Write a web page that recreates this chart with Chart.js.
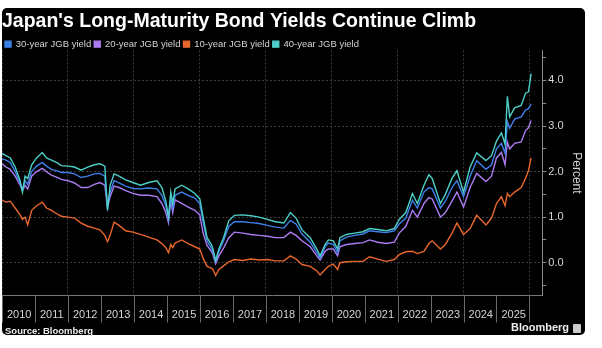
<!DOCTYPE html>
<html lang="en">

<head>
    <meta charset="UTF-8" />
    <title>Japan's Long-Maturity Bond Yields Continue Climb</title>
    <script src="https://cdn.jsdelivr.net/npm/chart.js"></script>
    <style>
        body {
            margin: 0;
            width: 602px;
            height: 348px;
            overflow: hidden;
            background: #fff;
            position: relative;
            font-family: "Liberation Sans", Arial, sans-serif;
        }

        .panel {
            position: absolute;
            left: 2px;
            top: 8px;
            width: 583px;
            height: 327px;
            background: #000;
            border-radius: 5px;
        }

        #yieldChart {
            position: absolute;
            left: 0;
            top: 0;
        }

        .source {
            position: absolute;
            left: 3px;
            top: 318px;
            color: #eee;
            font-weight: bold;
            font-size: 9.5px;
            line-height: 1;
        }

        .brand {
            position: absolute;
            left: 509px;
            top: 314px;
            color: #eee;
            font-weight: bold;
            font-size: 11px;
            line-height: 1;
        }

        .brand-icon {
            position: absolute;
            left: 571px;
            top: 316px;
            width: 8px;
            height: 9px;
            background: #ccc;
            border-radius: 1px;
        }
    </style>
</head>

<body>
    <div class="panel">
        <canvas id="yieldChart" width="583" height="327"></canvas>
        <span class="source">Source: Bloomberg</span>
        <span class="brand">Bloomberg</span>
        <span class="brand-icon"></span>
    </div>

    <script>
        // dates as decimal years
        const dates = [
            2010.00, 2010.12, 2010.25, 2010.40, 2010.55, 2010.62, 2010.70, 2010.78, 2010.90,
            2011.05, 2011.22, 2011.35, 2011.50, 2011.65, 2011.80,
            2012.00, 2012.20, 2012.40, 2012.60, 2012.80, 2012.97,
            2013.12, 2013.20, 2013.28, 2013.40, 2013.55, 2013.75, 2013.97,
            2014.20, 2014.45, 2014.70, 2014.85, 2014.97,
            2015.05, 2015.12, 2015.18, 2015.25, 2015.45, 2015.65, 2015.85,
            2016.00, 2016.10, 2016.22, 2016.35, 2016.40, 2016.48, 2016.58, 2016.72, 2016.88,
            2017.05, 2017.30, 2017.55, 2017.80,
            2018.05, 2018.30, 2018.55, 2018.75, 2018.92,
            2019.10, 2019.35, 2019.55, 2019.65, 2019.80, 2019.90,
            2020.05, 2020.18, 2020.25, 2020.45, 2020.70, 2020.95,
            2021.15, 2021.40, 2021.65, 2021.90,
            2022.05, 2022.25, 2022.45, 2022.60, 2022.80, 2022.95,
            2023.05, 2023.30, 2023.45, 2023.65, 2023.80,
            2024.00, 2024.20, 2024.40, 2024.68, 2024.85,
            2025.00, 2025.15, 2025.26, 2025.33, 2025.40, 2025.55, 2025.75, 2025.88, 2025.97,
            2026.05
        ];

        const jgb30 = [
            2.28, 2.25, 2.20, 2.00, 1.75, 1.60, 1.80, 1.72, 2.00,
            2.12, 2.20, 2.12, 2.05, 2.02, 1.98,
            1.98, 1.95, 1.87, 1.90, 1.95, 1.96,
            1.90, 1.25, 1.55, 1.80, 1.75, 1.68, 1.63,
            1.62, 1.64, 1.62, 1.48, 1.25,
            0.95, 1.42, 1.20, 1.48, 1.55, 1.48, 1.42,
            1.30, 0.90, 0.48, 0.32, 0.25, 0.02, 0.25, 0.48, 0.80,
            0.90, 0.90, 0.88, 0.86,
            0.82, 0.78, 0.76, 0.93, 0.85,
            0.63, 0.45, 0.22, 0.10, 0.35, 0.43,
            0.40, 0.22, 0.48, 0.56, 0.60, 0.63,
            0.70, 0.68, 0.66, 0.70,
            0.85, 0.98, 1.37, 1.20, 1.55, 1.65,
            1.62, 1.20, 1.35, 1.65, 1.80,
            1.45, 1.90, 2.24, 2.05, 2.15,
            2.50, 2.62, 2.40, 3.10, 2.95, 3.15, 3.20, 3.35, 3.38,
            3.48
        ];

        const jgb20 = [
            2.17, 2.10, 2.05, 1.90, 1.70, 1.58, 1.70, 1.62, 1.90,
            2.00, 2.07, 2.00, 1.92, 1.88, 1.83,
            1.80, 1.75, 1.65, 1.65, 1.72, 1.76,
            1.70, 1.20, 1.45, 1.68, 1.65, 1.58, 1.52,
            1.48, 1.48, 1.45, 1.30, 1.10,
            0.88, 1.35, 1.10, 1.38, 1.30, 1.22, 1.15,
            1.05, 0.65, 0.38, 0.25, 0.18, -0.02, 0.15, 0.32, 0.55,
            0.67, 0.65, 0.62, 0.60,
            0.58, 0.55, 0.55, 0.67, 0.60,
            0.48, 0.35, 0.15, 0.06, 0.25, 0.30,
            0.30, 0.15, 0.35, 0.40, 0.42, 0.44,
            0.50, 0.45, 0.42, 0.45,
            0.65, 0.80, 1.15, 1.00, 1.30, 1.43,
            1.40, 1.00, 1.10, 1.35, 1.55,
            1.22, 1.65, 1.96, 1.78, 1.90,
            2.30, 2.42, 2.15, 2.65, 2.50, 2.62, 2.65, 2.90, 2.96,
            3.12
        ];

        const jgb10 = [
            1.37, 1.33, 1.35, 1.20, 1.05, 0.95, 1.00, 0.83, 1.15,
            1.25, 1.33, 1.20, 1.15, 1.08, 1.02,
            1.00, 0.98, 0.87, 0.80, 0.76, 0.72,
            0.60, 0.46, 0.60, 0.89, 0.82, 0.70, 0.67,
            0.62, 0.56, 0.50, 0.42, 0.33,
            0.22, 0.40, 0.33, 0.43, 0.50, 0.42, 0.35,
            0.30, 0.10, -0.08, -0.12, -0.15, -0.28, -0.15, -0.07, 0.02,
            0.07, 0.05, 0.08, 0.06,
            0.07, 0.04, 0.04, 0.15, 0.08,
            -0.04, -0.08, -0.18, -0.27, -0.15, -0.08,
            -0.03, -0.15, 0.00, 0.02, 0.03, 0.03,
            0.13, 0.08, 0.03, 0.07,
            0.18, 0.24, 0.25, 0.20, 0.25, 0.42,
            0.48, 0.30, 0.40, 0.65, 0.87,
            0.62, 0.75, 1.04, 0.83, 0.98,
            1.30, 1.45, 1.25, 1.52, 1.45, 1.55, 1.65, 1.85, 2.02,
            2.30
        ];

        const jgb40 = [
            2.40, 2.35, 2.30, 2.10, 1.80, 1.55, 1.90, 1.85, 2.15,
            2.30, 2.42, 2.30, 2.25, 2.20, 2.13,
            2.12, 2.10, 2.03, 2.10, 2.15, 2.17,
            2.12, 1.15, 1.70, 1.95, 1.90, 1.82, 1.76,
            1.70, 1.76, 1.80, 1.65, 1.35,
            1.00, 1.55, 1.30, 1.62, 1.70, 1.62, 1.52,
            1.40, 1.00, 0.55, 0.40, 0.30, 0.05, 0.30, 0.55, 0.92,
            1.04, 1.05, 1.03, 1.00,
            0.95, 0.90, 0.87, 1.10, 0.98,
            0.72, 0.55, 0.30, 0.15, 0.40, 0.50,
            0.48, 0.30, 0.55, 0.62, 0.65, 0.68,
            0.75, 0.73, 0.70, 0.75,
            0.95, 1.10, 1.52, 1.30, 1.70, 1.93,
            1.85, 1.30, 1.50, 1.85, 2.02,
            1.55, 2.10, 2.41, 2.24, 2.35,
            2.67, 2.85, 2.60, 3.65, 3.20, 3.40, 3.45, 3.72, 3.75,
            4.15
        ];

        const yearTicks = [2010, 2011, 2012, 2013, 2014, 2015, 2016, 2017, 2018,
            2019, 2020, 2021, 2022, 2023, 2024, 2025, 2026];
        const yearLabels = ['2010', '2011', '2012', '2013', '2014', '2015', '2016', '2017', '2018',
            '2019', '2020', '2021', '2022', '2023', '2024', '2025', ''];
        const percentTicks = [-0.5, 0, 0.5, 1, 1.5, 2, 2.5, 3, 3.5, 4, 4.5];

        const gridColor = '#3c3c3c';
        const axisColor = '#8a8a8a';
        const labelColor = '#d4d4d4';

        Chart.defaults.font.family = "'Liberation Sans', Arial, sans-serif";

        // vertical separators between the year labels, below the x axis
        const yearSeparators = {
            id: 'yearSeparators',
            afterDraw(chart) {
                const xs = chart.scales.x;
                const c = chart.ctx;
                c.save();
                c.strokeStyle = '#6a6a6a';
                c.lineWidth = 1;
                yearTicks.forEach(v => {
                    const px = Math.round(xs.getPixelForValue(v)) + 0.5;
                    c.beginPath();
                    c.moveTo(px, xs.top);
                    c.lineTo(px, xs.top + 27);
                    c.stroke();
                });
                c.restore();
            }
        };

        // dotted grid lines, solid axis line
        const gridDash = c => c.type === 'tick' ? [2, 2] : [];

        function series(values) {
            return dates.map((d, i) => ({ x: d, y: values[i] }));
        }

        function lineSet(label, values, color, order) {
            return {
                label: label,
                data: series(values),
                borderColor: color,
                backgroundColor: color,
                borderWidth: 1.4,
                pointRadius: 0,
                tension: 0,
                order: order
            };
        }

        const ctx = document.getElementById('yieldChart').getContext('2d');
        const chart = new Chart(ctx, {
            type: 'line',
            data: {
                datasets: [
                    lineSet('30-year JGB yield', jgb30, '#3f80ea', 1),
                    lineSet('20-year JGB yield', jgb20, '#ad7cf2', 2),
                    lineSet('10-year JGB yield', jgb10, '#e8672c', 3),
                    lineSet('40-year JGB yield', jgb40, '#4ccfc6', 0)
                ]
            },
            plugins: [yearSeparators],
            options: {
                responsive: false,
                animation: false,
                layout: {
                    padding: { top: 0, right: 0, bottom: 1, left: 0 }
                },
                plugins: {
                    title: {
                        display: true,
                        text: "Japan's Long-Maturity Bond Yields Continue Climb",
                        align: 'start',
                        color: '#ffffff',
                        font: { size: 19.5, weight: 'bold' },
                        padding: { top: 2, bottom: 3 }
                    },
                    legend: {
                        display: true,
                        align: 'start',
                        maxHeight: 14,
                        labels: {
                            color: labelColor,
                            font: { size: 9.5 },
                            boxWidth: 6,
                            boxHeight: 6,
                            padding: 3,
                            sort: (a, b) => a.datasetIndex - b.datasetIndex
                        }
                    },
                    tooltip: { enabled: false }
                },
                scales: {
                    x: {
                        type: 'linear',
                        min: 2010,
                        max: 2026.39,
                        afterBuildTicks: axis => {
                            axis.ticks = yearTicks.map(v => ({ value: v }));
                        },
                        ticks: {
                            autoSkip: false,
                            maxRotation: 0,
                            align: 'start',
                            labelOffset: 5,
                            padding: 0,
                            color: labelColor,
                            font: { size: 11, lineHeight: 3.5 },
                            callback: (value, index) => yearLabels[index]
                        },
                        grid: {
                            color: c => (c.tick && c.tick.value % 2 === 0) ? gridColor : 'transparent',
                            drawTicks: false
                        },
                        border: { color: '#777', dash: gridDash }
                    },
                    y: {
                        position: 'right',
                        min: -0.72,
                        max: 4.66,
                        afterBuildTicks: axis => {
                            axis.ticks = percentTicks.map(v => ({ value: v }));
                        },
                        ticks: {
                            padding: 2,
                            color: labelColor,
                            font: { size: 11 },
                            callback: value => Number.isInteger(value) ? value.toFixed(1) : ''
                        },
                        grid: {
                            color: c => (c.tick && Number.isInteger(c.tick.value)) ? gridColor : 'transparent',
                            tickColor: axisColor,
                            tickLength: 4
                        },
                        border: { color: axisColor, dash: gridDash },
                        title: {
                            display: true,
                            text: 'Percent',
                            color: labelColor,
                            font: { size: 12 },
                            padding: { top: 1, bottom: 4 }
                        }
                    }
                }
            }
        });
    </script>
</body>

</html>
